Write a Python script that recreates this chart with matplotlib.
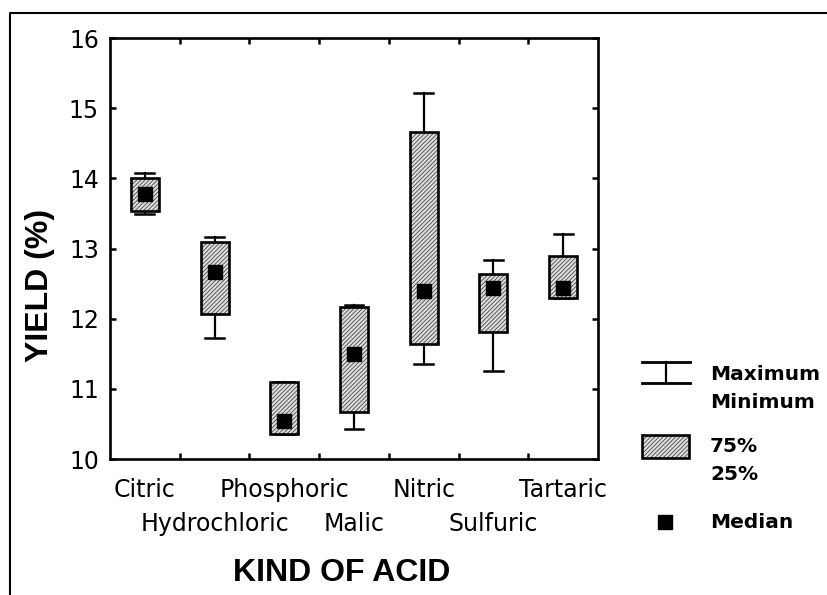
import matplotlib
matplotlib.use("Agg")
import matplotlib.pyplot as plt
from matplotlib.patches import Rectangle
from matplotlib.lines import Line2D

# data
acids = ["Citric", "Hydrochloric", "Phosphoric", "Malic", "Nitric", "Sulfuric", "Tartaric"]
minimum = [13.49, 11.73, 10.36, 10.43, 11.36, 11.26, 12.29]
q25 = [13.53, 12.06, 10.36, 10.67, 11.64, 11.81, 12.29]
median = [13.78, 12.66, 10.54, 11.50, 12.39, 12.43, 12.43]
q75 = [14.01, 13.09, 11.10, 12.16, 14.66, 12.63, 12.90]
maximum = [14.07, 13.16, 11.10, 12.19, 15.21, 12.83, 13.21]
y_ticks = [10, 11, 12, 13, 14, 15, 16]

W, H = 828, 595
plt.rcParams['hatch.linewidth'] = 0.6
tick_font = "DejaVu Sans Condensed"
box_face = "#dedede"
hatch_col = "#484848"
hatch_pat = "////////"

fig = plt.figure(figsize=(W / 100, H / 100), dpi=100)
ax = fig.add_axes([110 / W, (H - 459) / H, 488 / W, 421 / H])

x = list(range(len(acids)))
half_cap = 0.135

# whiskers
for i in x:
    ax.plot([i, i], [minimum[i], maximum[i]], color="black", lw=1.6, zorder=1)
    ax.plot([i - half_cap, i + half_cap], [maximum[i]] * 2, color="black", lw=1.8, zorder=1)
    ax.plot([i - half_cap, i + half_cap], [minimum[i]] * 2, color="black", lw=1.8, zorder=1)

# boxes: hatched fill then black outline
heights = [b - a for a, b in zip(q25, q75)]
ax.bar(x, heights, bottom=q25, width=0.4, color=box_face, edgecolor=hatch_col,
       hatch=hatch_pat, linewidth=0, zorder=2)
ax.bar(x, heights, bottom=q25, width=0.4, fill=False, edgecolor="black",
       linewidth=1.9, zorder=3)

# medians
ax.plot(x, median, linestyle="none", marker="s", markersize=10.5,
        color="black", zorder=4)

ax.set_xlim(-0.5, 6.5)
ax.set_ylim(10, 16)
ax.set_yticks(y_ticks)
ax.set_yticklabels([str(v) for v in y_ticks], fontsize=17, family=tick_font)
ax.set_xticks(x)
ax.set_xticklabels(acids, fontsize=17, family=tick_font)
ax.set_xticks([i + 0.5 for i in x[:-1]], minor=True)
ax.tick_params(axis="x", which="major", length=0, pad=14)
# stagger: every second label goes on a lower row
for i, t in enumerate(ax.xaxis.get_major_ticks()):
    if i % 2 == 1:
        t.set_pad(38)
ax.tick_params(axis="x", which="minor", direction="in", length=4, width=1.8,
               top=True, bottom=True)
ax.tick_params(axis="y", which="major", direction="in", length=4, width=1.8,
               left=True, right=True, pad=8)
for s in ax.spines.values():
    s.set_linewidth(1.9)

# axis titles
fig.text(40 / W, 1 - 285 / H, "YIELD (%)", rotation=90, ha="center", va="center",
         fontsize=23, fontweight="bold", family="Liberation Sans")
fig.text(342 / W, 1 - 573 / H, "KIND OF ACID", ha="center", va="center",
         fontsize=23, fontweight="bold", family="Liberation Sans")

# overlay in pixel coordinates for legend and outer frame
ov = fig.add_axes([0, 0, 1, 1], facecolor="none")
ov.set_xlim(0, W)
ov.set_ylim(H, 0)
ov.axis("off")

ov.add_line(Line2D([10, 10, W + 5], [H + 5, 13, 13], color="black", lw=1.5))

# legend: whisker symbol
ov.add_line(Line2D([642, 690], [362, 362], color="black", lw=2))
ov.add_line(Line2D([642, 690], [383, 383], color="black", lw=2))
ov.add_line(Line2D([666, 666], [362, 383], color="black", lw=1.6))
# legend: box symbol
ov.add_patch(Rectangle((642, 435), 47, 23, facecolor=box_face, edgecolor=hatch_col,
                       hatch=hatch_pat, linewidth=0))
ov.add_patch(Rectangle((642, 435), 47, 23, fill=False, edgecolor="black", linewidth=1.9))
# legend: median symbol
ov.plot([665], [522], marker="s", markersize=10.5, color="black", linestyle="none")

leg_kw = dict(fontsize=14.5, fontweight="bold", family="DejaVu Sans Condensed",
              ha="left", va="center")
ov.text(710, 374, "Maximum", **leg_kw)
ov.text(710, 402, "Minimum", **leg_kw)
ov.text(710, 447, "75%", **leg_kw)
ov.text(710, 475, "25%", **leg_kw)
ov.text(710, 522, "Median", **leg_kw)

fig.savefig("out.png", dpi=100)
